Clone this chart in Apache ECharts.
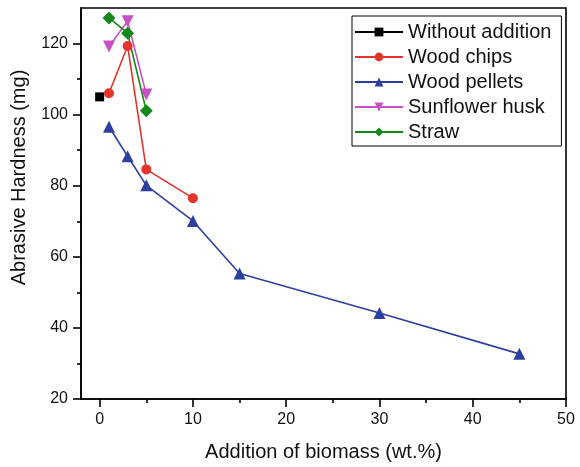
<!DOCTYPE html>
<html>
<head>
<meta charset="utf-8">
<script src="https://cdn.jsdelivr.net/npm/echarts@6/dist/echarts.min.js"></script>
<style>
  html, body { margin: 0; padding: 0; background: #fff; }
  #chart { width: 580px; height: 467px; }
</style>
</head>
<body>
<div id="chart"></div>
<script>
  // values
  const withoutAddition = [[0, 105]];
  const woodChips = [[1, 106], [3, 119.3], [5, 84.6], [10, 76.5]];
  const woodPellets = [[1, 96.6], [3, 88.3], [5, 80.1], [10, 70.1], [15, 55.3], [30, 44.2], [45, 32.7]];
  const sunflowerHusk = [[1, 119.2], [3, 126.3], [5, 105.7]];
  const straw = [[1, 127.2], [3, 122.9], [5, 101.1]];

  const xLabels = [0, 10, 20, 30, 40, 50];
  const xMinor = [5, 15, 25, 35, 45];
  const yLabels = [20, 40, 60, 80, 100, 120];
  const yMinor = [30, 50, 70, 90, 110];

  const font = 'Liberation Sans, Arial, sans-serif';
  const chart = echarts.init(document.getElementById('chart'));

  function mkSeries(name, data, color, symbol, size) {
    return {
      name: name,
      type: 'line',
      data: data,
      symbol: symbol,
      symbolSize: size,
      showSymbol: true,
      animation: false,
      lineStyle: { color: color, width: 1.6 },
      itemStyle: { color: color },
      z: 3,
    };
  }

  chart.setOption({
    backgroundColor: '#fff',
    grid: {
      left: 81, right: 14, top: 8, bottom: 64,
      show: true, borderColor: '#000', borderWidth: 1.6,
    },
    legend: {
      orient: 'vertical',
      left: 352, top: 16,
      itemWidth: 48, itemHeight: 11, itemGap: 5,
      padding: [6, 10, 4, 2],
      backgroundColor: '#fff',
      borderColor: '#000', borderWidth: 1,
      textStyle: { fontFamily: font, fontSize: 20, lineHeight: 20, color: '#111' },
      data: ['Without addition', 'Wood chips', 'Wood pellets', 'Sunflower husk', 'Straw'],
    },
    xAxis: [
      {
        type: 'value', min: -2, max: 50,
        name: 'Addition of biomass (wt.%)', nameLocation: 'middle', nameGap: 43,
        nameTextStyle: { fontFamily: font, fontSize: 20, color: '#111' },
        axisLine: { show: true, onZero: false, lineStyle: { color: '#000', width: 1.6 } },
        axisTick: { show: true, inside: false, length: 8, customValues: xLabels, lineStyle: { color: '#000', width: 1.6 } },
        axisLabel: { customValues: xLabels, margin: 13, fontFamily: font, fontSize: 16, color: '#111' },
        splitLine: { show: false },
      },
      {
        type: 'value', min: -2, max: 50, position: 'bottom',
        axisLine: { show: false, onZero: false },
        axisTick: { show: true, length: 4, customValues: xMinor, lineStyle: { color: '#000', width: 1.6 } },
        axisLabel: { show: false },
        splitLine: { show: false },
      },
    ],
    yAxis: [
      {
        type: 'value', min: 20, max: 130,
        name: 'Abrasive Hardness (mg)', nameLocation: 'middle', nameGap: 52,
        nameTextStyle: { fontFamily: font, fontSize: 20, color: '#111', padding: [0, 0, 0, 52] },
        axisLine: { show: true, onZero: false, lineStyle: { color: '#000', width: 1.6 } },
        axisTick: { show: true, length: 8, customValues: yLabels, lineStyle: { color: '#000', width: 1.6 } },
        axisLabel: { customValues: yLabels, margin: 13, fontFamily: font, fontSize: 16, color: '#111' },
        splitLine: { show: false },
      },
      {
        type: 'value', min: 20, max: 130, position: 'left',
        axisLine: { show: false, onZero: false },
        axisTick: { show: true, length: 4, customValues: yMinor, lineStyle: { color: '#000', width: 1.6 } },
        axisLabel: { show: false },
        splitLine: { show: false },
      },
    ],
    series: [
      mkSeries('Without addition', withoutAddition, '#000000', 'rect', 9),
      mkSeries('Wood chips', woodChips, '#e5352b', 'circle', 10),
      mkSeries('Wood pellets', woodPellets, '#2c3f9f', 'triangle', 12),
      mkSeries('Sunflower husk', sunflowerHusk, '#c650c4', 'path://M0,0 L10,0 L5,9 Z', 12),
      mkSeries('Straw', straw, '#13891b', 'diamond', 13),
    ],
  });
</script>
</body>
</html>
